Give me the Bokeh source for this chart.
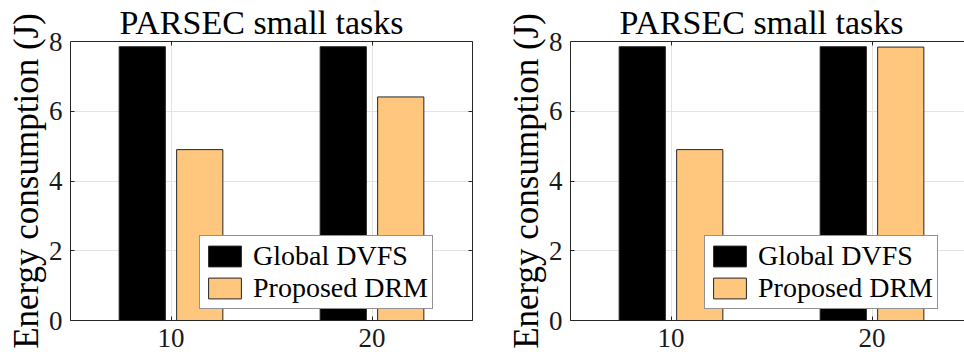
from bokeh.plotting import figure
from bokeh.layouts import row
from bokeh.models import (ColumnDataSource, LinearAxis, FixedTicker, Legend,
                          LegendItem, Range1d, Title)
from bokeh.embed import file_html
from bokeh.resources import INLINE

# ---- data ----
tasks = [10, 20]
y_ticks = [0, 2, 4, 6, 8]
left_global = [7.85, 7.85]
left_drm = [4.90, 6.41]
right_global = [7.85, 7.85]
right_drm = [4.90, 7.84]
series_names = ["Global DVFS", "Proposed DRM"]
title_text = "PARSEC small tasks"
ylabel_text = "Energy consumption (J)"

# ---- style ----
BAR_OFFSET = 1.43
BAR_WIDTH = 2.3
FONT = "Liberation Serif"
AX = "#262626"
ORANGE = "#FFC77D"
GRID = "#e3e3e3"


def style_axis(ax, show_labels=True, ticks=None):
    ax.axis_line_color = AX
    ax.axis_line_width = 1
    ax.major_tick_line_color = AX
    ax.major_tick_in = 4
    ax.major_tick_out = 0
    ax.minor_tick_line_color = None
    ax.major_label_text_font = FONT
    ax.major_label_text_font_style = "normal"
    ax.major_label_text_font_size = "27px"
    ax.major_label_text_color = "#1a1a1a"
    if not show_labels:
        ax.major_label_overrides = {t: "" for t in ticks}
        ax.major_label_text_font_size = "2px"
        ax.major_label_standoff = 0


def make(glob, drm, width, x_end, mirror_right, title_offset, legend_x):
    p = figure(width=width, height=352, x_range=Range1d(5, x_end),
               y_range=Range1d(0, 8), output_backend="svg",
               toolbar_location=None, min_border_left=70,
               min_border_right=28 if mirror_right else 0,
               min_border_top=38, min_border_bottom=32)
    p.outline_line_color = None
    p.background_fill_color = "white"

    src = ColumnDataSource(dict(
        xg=[t - BAR_OFFSET for t in tasks],
        xd=[t + BAR_OFFSET for t in tasks],
        g=glob, d=drm))
    rg = p.vbar(x="xg", top="g", width=BAR_WIDTH, source=src,
                fill_color="black", line_color=AX, line_width=1)
    rd = p.vbar(x="xd", top="d", width=BAR_WIDTH, source=src,
                fill_color=ORANGE, line_color=AX, line_width=1)

    p.xaxis.ticker = FixedTicker(ticks=tasks)
    p.yaxis.ticker = FixedTicker(ticks=y_ticks)
    style_axis(p.xaxis[0])
    style_axis(p.yaxis[0])
    p.yaxis.major_label_standoff = 8
    p.xaxis.major_label_standoff = 8

    ylab = Title(text=ylabel_text, align="center", offset=-24,
                 text_font=FONT, text_font_size="35px",
                 text_font_style="normal", text_color="black", standoff=0)
    p.add_layout(ylab, "left")

    top_ax = LinearAxis(ticker=FixedTicker(ticks=tasks))
    style_axis(top_ax, show_labels=False, ticks=tasks)
    p.add_layout(top_ax, "above")
    if mirror_right:
        right_ax = LinearAxis(ticker=FixedTicker(ticks=y_ticks))
        style_axis(right_ax, show_labels=False, ticks=y_ticks)
        p.add_layout(right_ax, "right")

    p.xgrid.ticker = FixedTicker(ticks=tasks)
    p.ygrid.ticker = FixedTicker(ticks=y_ticks)
    p.grid.grid_line_color = GRID
    p.grid.grid_line_width = 1

    p.title.text = title_text
    p.title.text_font = FONT
    p.title.text_font_size = "34px"
    p.title.text_font_style = "normal"
    p.title.text_color = "black"
    p.title.align = "left"
    p.title.offset = title_offset
    p.title.standoff = 2

    legend = Legend(items=[LegendItem(label=series_names[0], renderers=[rg]),
                           LegendItem(label=series_names[1], renderers=[rd])],
                    location=(legend_x, 11))
    legend.border_line_color = AX
    legend.border_line_width = 1
    legend.background_fill_color = "white"
    legend.background_fill_alpha = 1
    legend.padding = 4
    legend.spacing = 0
    legend.margin = 0
    legend.glyph_width = 41
    legend.glyph_height = 26
    legend.label_height = 26
    legend.label_standoff = 8
    legend.label_text_font = FONT
    legend.label_text_font_style = "normal"
    legend.label_text_font_size = "28px"
    legend.label_text_color = "black"
    p.add_layout(legend, "center")
    return p


left = make(left_global, left_drm, 500, 25, True, 49, 129)
right = make(right_global, right_drm, 464, 5 + 20 * 394 / 402, False, 49, 134)

layout = row(left, right, spacing=0)
open("out.html", "w").write(file_html(layout, INLINE))
